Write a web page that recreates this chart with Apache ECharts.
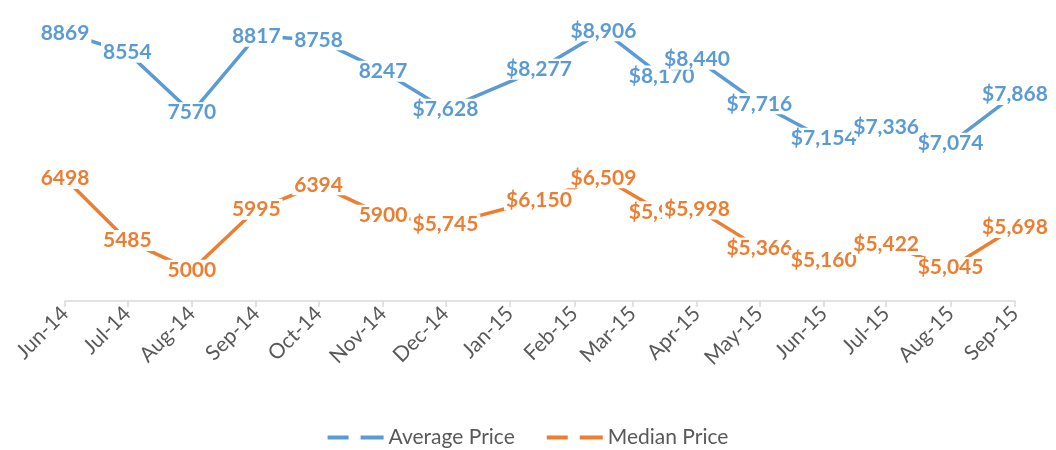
<!DOCTYPE html>
<html>
<head>
<meta charset="utf-8">
<title>Average and Median Price</title>
<script src="https://cdn.jsdelivr.net/npm/echarts@6/dist/echarts.min.js"></script>
<style>
html,body{margin:0;padding:0;background:#fff;}
#chart{width:1056px;height:450px;}
</style>
</head>
<body>
<div id="chart"></div>
<script>
// dates of each observation (Jan-Mar 2015 sit mid-month)
var dates = ['2014-06-01','2014-07-01','2014-08-01','2014-09-01','2014-10-01','2014-11-01','2014-12-01',
    '2015-01-15','2015-02-15','2015-03-15','2015-04-01','2015-05-01','2015-06-01','2015-07-01','2015-08-01','2015-09-01'];
var averagePrice = [8869,8554,7570,8817,8758,8247,7628,8277,8906,8170,8440,7716,7154,7336,7074,7868];
var medianPrice  = [6498,5485,5000,5995,6394,5900,5745,6150,6509,5955,5998,5366,5160,5422,5045,5698];
var monthNames = ['Jan','Feb','Mar','Apr','May','Jun','Jul','Aug','Sep','Oct','Nov','Dec'];
// labels from this index on are shown as currency
var dollarFrom = 6;

function pairs(vals){
    var out = [];
    for(var i=0;i<vals.length;i++){
        out.push([dates[i], vals[i]]);
    }
    return out;
}

function labelFmt(params){
    var v = params.value[1];
    if(params.dataIndex >= dollarFrom){
        return '$' + v.toLocaleString('en-US');
    }
    return String(v);
}

function makeSeries(name, vals, color){
    return {
        name: name,
        type: 'line',
        data: pairs(vals),
        symbol: 'circle',
        symbolSize: 1,
        showSymbol: true,
        lineStyle: {width: 3.5, color: color},
        itemStyle: {color: color},
        label: {
            show: true,
            position: 'inside',
            formatter: labelFmt,
            color: color,
            fontFamily: 'Lato',
            fontWeight: 'bold',
            fontSize: 21,
            backgroundColor: '#fff',
            padding: [0, 2]
        },
        labelLayout: {hideOverlap: false},
        emphasis: {disabled: true},
        animation: false
    };
}

var myChart = echarts.init(document.getElementById('chart'));
var option = {
    grid: {left: 65, right: 41, top: 25, bottom: 149},
    legend: {
        top: 427,
        left: 'center',
        padding: 0,
        itemWidth: 56,
        itemHeight: 4,
        itemGap: 32,
        icon: 'path://M0,0H21V4H0Z M33,0H56V4H33Z',
        textStyle: {color: '#595959', fontFamily: 'Lato', fontSize: 21},
        data: ['Average Price','Median Price']
    },
    xAxis: {
        type: 'time',
        min: '2014-06-01',
        max: '2015-09-01',
        splitNumber: 15,
        minInterval: 28 * 86400000,
        maxInterval: 31 * 86400000,
        axisLine: {lineStyle: {color: '#d9d9d9', width: 1.5}},
        axisTick: {show: true, length: 6, lineStyle: {color: '#d9d9d9', width: 1.5}},
        splitLine: {show: false},
        axisLabel: {
            rotate: 45,
            color: '#595959',
            fontFamily: 'Lato',
            fontSize: 21,
            margin: 9,
            showMinLabel: true,
            showMaxLabel: true,
            formatter: function(val){
                var d = new Date(val);
                return monthNames[d.getMonth()] + '-' + String(d.getFullYear()).slice(2);
            }
        }
    },
    yAxis: {
        type: 'value',
        min: 4500,
        max: 9000,
        show: false
    },
    series: [
        makeSeries('Average Price', averagePrice, '#5b9bd5'),
        makeSeries('Median Price', medianPrice, '#ed7d31')
    ]
};
myChart.setOption(option);
</script>
</body>
</html>
